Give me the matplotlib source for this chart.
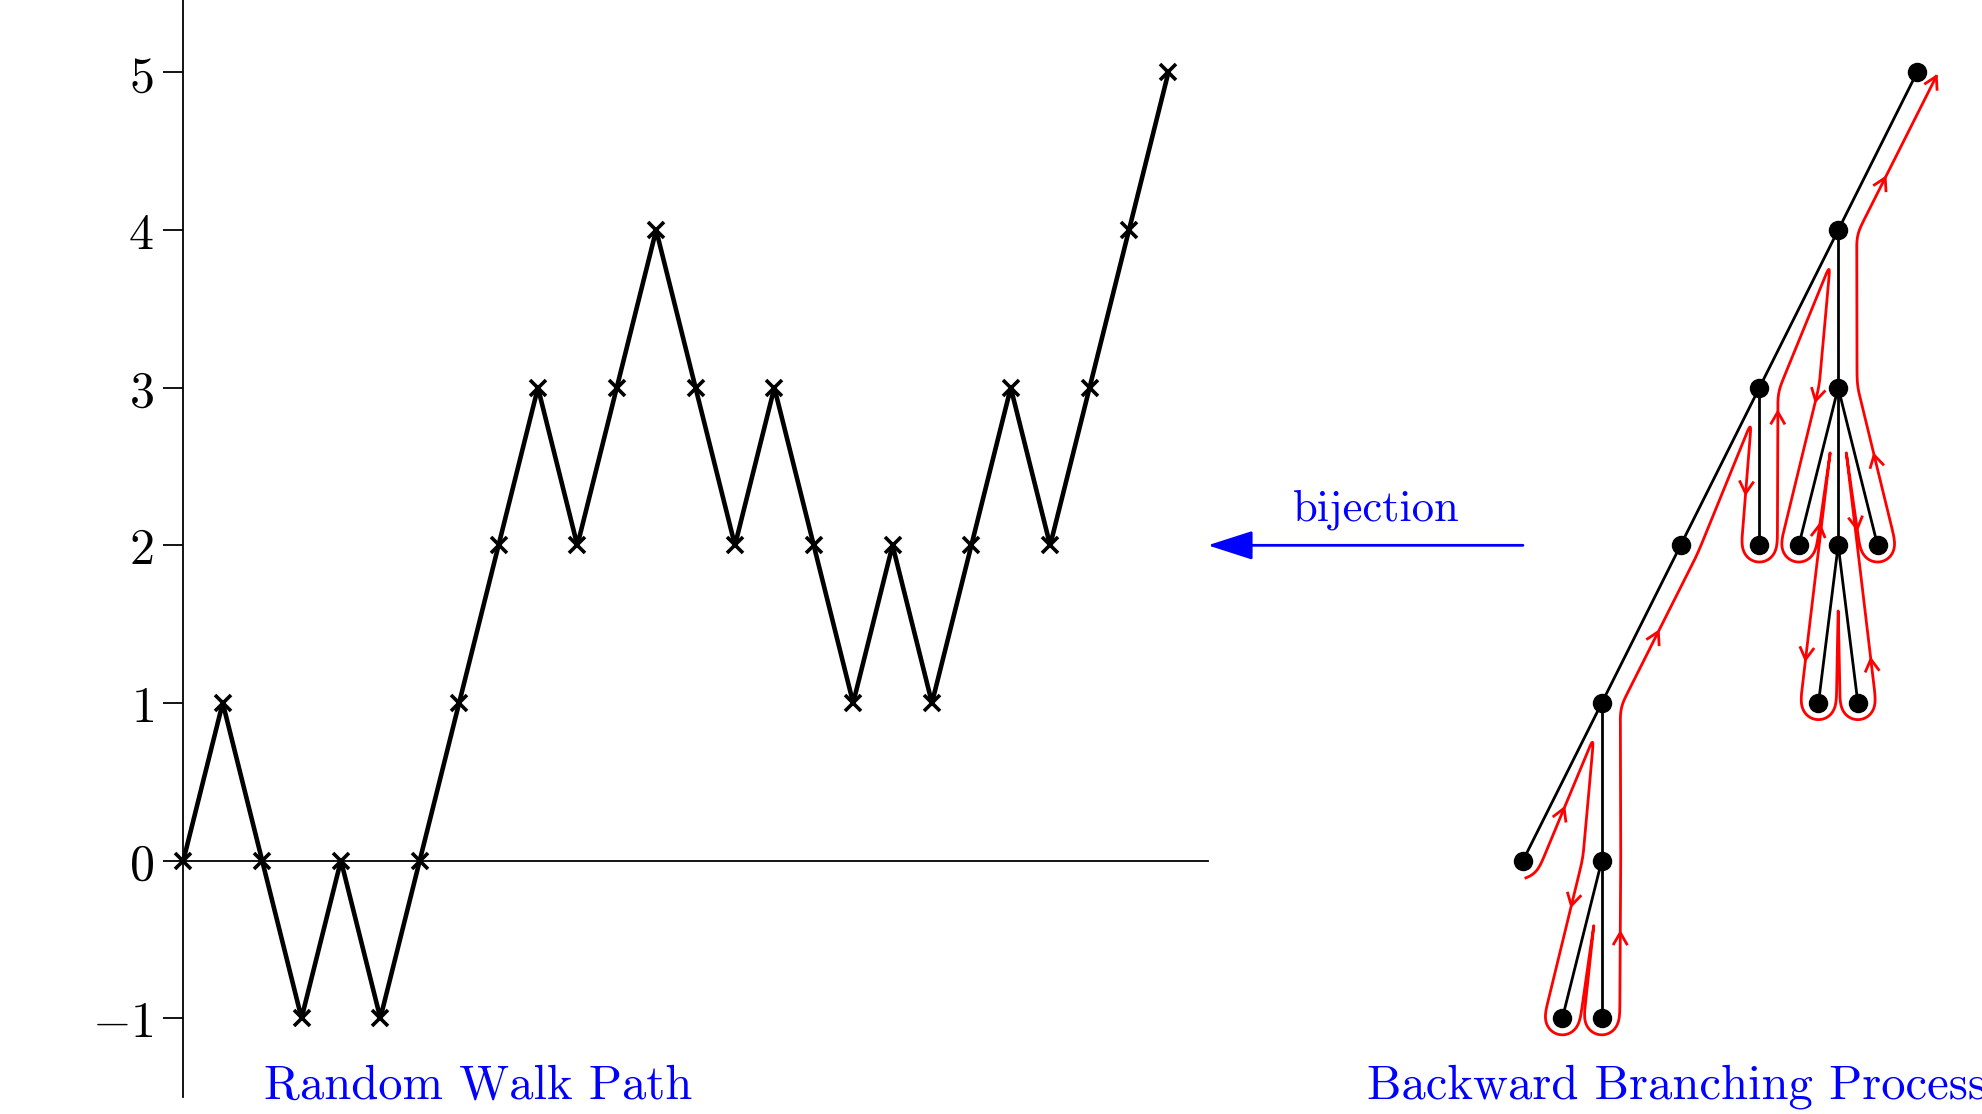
import numpy as np
import matplotlib.pyplot as plt

plt.rcParams['mathtext.fontset'] = 'cm'

# random walk path
walk_steps = list(range(26))
walk_heights = [0, 1, 0, -1, 0, -1, 0, 1, 2, 3, 2, 3, 4, 3, 2, 3, 2, 1, 2, 1, 2, 3, 2, 3, 4, 5]
y_ticks = [-1, 0, 1, 2, 3, 4, 5]
y_tick_labels = ['$-1$', '$0$', '$1$', '$2$', '$3$', '$4$', '$5$']

# backward branching process (tree), node 0 is the root
node_x = [44, 42, 40, 42, 38, 40, 41, 42, 43, 36, 41.5, 42.5, 34, 36, 35, 36]
node_y = [5, 4, 3, 3, 2, 2, 2, 2, 2, 1, 1, 1, 0, 0, -1, -1]
tree_edges = [(0, 1), (1, 2), (1, 3), (2, 4), (2, 5), (3, 6), (3, 7), (3, 8),
              (4, 9), (7, 10), (7, 11), (9, 12), (9, 13), (13, 14), (13, 15)]

# rough spots on the red contour that carry a direction arrow
arrow_spots = [(35.13, 0.32), (35.38, -0.29), (36.52, -0.46), (37.28, 1.47),
               (39.83, 2.33), (40.46, 2.85), (41.62, 2.9), (43.06, 4.35),
               (42.98, 2.58), (42.68, 2.11), (41.52, 2.13), (41.37, 1.27), (42.78, 1.27)]

fig = plt.figure(figsize=(19.82, 11.14), dpi=100)
ax_pos = [0.0925, 0.0153, 0.9075, 0.9847]
ax = fig.add_axes(ax_pos)
ax.set_xlim(0, 45.65)
ax.set_ylim(-1.5, 5.46)

# pixels per data unit, so the contour can be offset in screen space
sx = fig.get_figwidth() * fig.dpi * ax_pos[2] / 45.65
sy = fig.get_figheight() * fig.dpi * ax_pos[3] / 6.96

# axes
for side in ['top', 'right']:
    ax.spines[side].set_visible(False)
ax.spines['bottom'].set_position(('data', 0))
ax.spines['bottom'].set_bounds(0, 26)
ax.spines['bottom'].set_linewidth(1.3)
ax.spines['left'].set_linewidth(1.3)
ax.set_xticks([])
ax.set_yticks(y_ticks, y_tick_labels, fontsize=36)
ax.tick_params(axis='y', length=14.4, width=1.3, pad=7, direction='out')

# walk
ax.plot(walk_steps, walk_heights, color='black', lw=3.3, marker='x', ms=12, mew=2.6,
        clip_on=False, zorder=3)

# tree
for a, b in tree_edges:
    ax.plot([node_x[a], node_x[b]], [node_y[a], node_y[b]], color='black', lw=2,
            clip_on=False, zorder=3)
ax.plot(node_x, node_y, 'o', color='black', ms=13, clip_on=False, zorder=4)

# contour of the tree
P = np.column_stack([np.array(node_x) * sx, np.array(node_y) * sy])
children = {i: [] for i in range(len(node_x))}
for a, b in tree_edges:
    children[a].append(b)
for k in children:
    children[k].sort(key=lambda c: node_x[c])

moves = []
def dfs(p):
    for c in children[p]:
        moves.append((p, c))
        dfs(c)
        moves.append((c, p))
dfs(0)

def unit(v):
    return v / np.hypot(v[0], v[1])

def right_normal(m):
    u = unit(P[m[1]] - P[m[0]])
    return np.array([u[1], -u[0]])

def is_down(m):
    return m[1] in children[m[0]]

d_out, r_leaf, d_pin = 19, 18, 8
pts = []
started = False
for m1, m2 in zip(moves[:-1], moves[1:]):
    node = m1[1]
    n1, n2 = right_normal(m1), right_normal(m2)
    if m1[0] == m2[1]:
        a1 = np.arctan2(n1[1], n1[0])
        a2 = np.arctan2(n2[1], n2[0])
        if not started:
            a1 = 1.5 * np.pi - 0.04
            started = True
        while a2 <= a1:
            a2 += 2 * np.pi
        th = np.linspace(a1, a2, 40)
        pts += list(P[node] + r_leaf * np.column_stack([np.cos(th), np.sin(th)]))
    elif not started:
        continue
    elif is_down(m2) and not is_down(m1):
        e1 = unit(P[m1[0]] - P[node])
        e2 = unit(P[m2[1]] - P[node])
        half = 0.5 * np.arccos(np.clip(e1 @ e2, -1, 1))
        h = min(d_pin / np.sin(half), 60)
        pts.append(P[node] + h * unit(e1 + e2))
    else:
        pts.append(P[node] + d_out * unit(n1 + n2))
last = moves[-1]
pts.append(P[0] + d_out * right_normal(last) + 8 * unit(P[last[1]] - P[last[0]]))
pts = np.array(pts)

seg = np.hypot(*np.diff(pts, axis=0).T)
s = np.concatenate([[0], np.cumsum(seg)])
ss = np.arange(0, s[-1], 2.0)
ss = np.append(ss, s[-1])
path = np.column_stack([np.interp(ss, s, pts[:, 0]), np.interp(ss, s, pts[:, 1])])
k = 7
for _ in range(3):
    pad = np.vstack([np.repeat(path[:1], k // 2, 0), path, np.repeat(path[-1:], k // 2, 0)])
    path = np.column_stack([np.convolve(pad[:, j], np.ones(k) / k, mode='valid') for j in range(2)])

ax.plot(path[:, 0] / sx, path[:, 1] / sy, color='red', lw=2, clip_on=False, zorder=2)

def chevron(tip, t):
    arms = []
    for ang in (np.radians(150), np.radians(-150)):
        c, sn = np.cos(ang), np.sin(ang)
        arms.append(tip + 13 * np.array([c * t[0] - sn * t[1], sn * t[0] + c * t[1]]))
    xy = np.array([arms[0], tip, arms[1]])
    ax.plot(xy[:, 0] / sx, xy[:, 1] / sy, color='red', lw=2, clip_on=False, zorder=2)

for px, py in arrow_spots:
    i = np.argmin(np.hypot(path[:, 0] - px * sx, path[:, 1] - py * sy))
    i = min(max(i, 3), len(path) - 4)
    chevron(path[i], unit(path[i + 3] - path[i - 3]))
chevron(path[-1], unit(path[-1] - path[-5]))

# bijection arrow
ax.annotate('', xy=(26, 2), xytext=(34, 2),
            arrowprops=dict(arrowstyle='-|>,head_length=1.4,head_width=0.45', mutation_scale=20,
                            color='blue', lw=2, shrinkA=0, shrinkB=0))
ax.text(30.28, 2.157, 'bijection', color='blue', fontsize=32, family='cmr10',
        ha='center', va='baseline')

ax.text(2.05, -1.508, 'Random Walk Path', color='blue', fontsize=35, family='cmr10',
        ha='left', va='baseline')
ax.text(30.05, -1.508, 'Backward Branching Process', color='blue', fontsize=35, family='cmr10',
        ha='left', va='baseline')

plt.savefig('out.png', dpi=100)
